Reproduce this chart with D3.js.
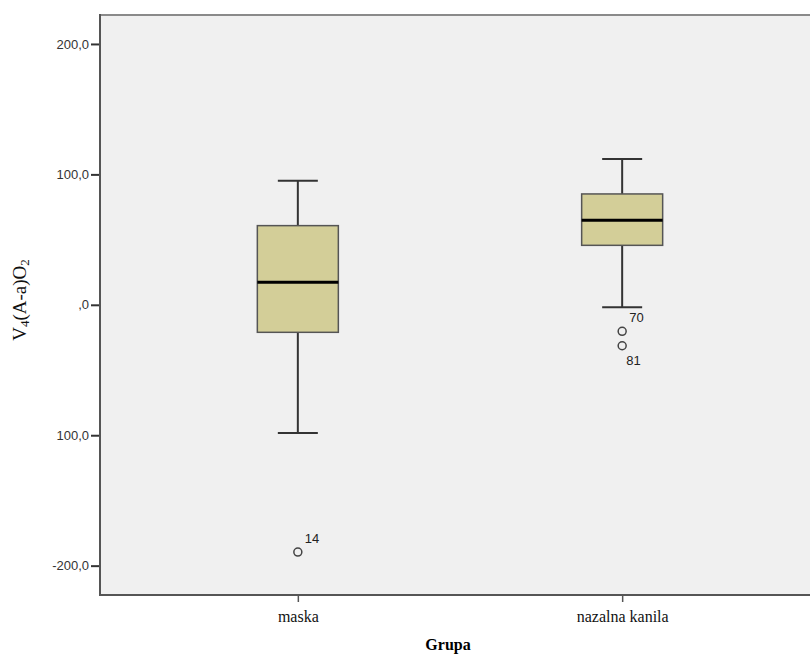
<!DOCTYPE html>
<html>
<head>
<meta charset="utf-8">
<script src="https://cdn.jsdelivr.net/npm/d3@7"></script>
<style>
  body { margin: 0; background: #fff; }
</style>
</head>
<body>
<div id="chart"></div>
<script>
// groups and box summaries
var groups = ["maska", "nazalna kanila"];
var whiskerLow = [-98.3, -1.9];
var q1 = [-21.1, 45.6];
var median = [17.2, 64.8];
var q3 = [60.7, 85.0];
var whiskerHigh = [95.2, 111.8];

// outliers: group index, value, case label
var outGroup = [0, 1, 1];
var outValue = [-189.6, -20.3, -31.4];
var outLabel = ["14", "70", "81"];

var yTicks = [-200, -100, 0, 100, 200];
var yTickText = ["-200,0", "100,0", ",0", "100,0", "200,0"];

var W = 810, H = 655;
// note: "top" is taken by window.top, so plot edges get their own names
var plotL = 100, plotT = 15, plotB = 595, plotR = 820;

var svg = d3.select("#chart").append("svg")
  .attr("width", W).attr("height", H);

var y = d3.scaleLinear().domain([-222.5, 222.2]).range([plotB, plotT]);
var x = d3.scalePoint().domain(groups).range([plotL, plotR]).padding(0.61);

// plot background
svg.append("rect")
  .attr("x", plotL).attr("y", plotT)
  .attr("width", plotR - plotL).attr("height", plotB - plotT)
  .attr("fill", "#f0f0f0")
  .attr("stroke", "none");

// top border
svg.append("line")
  .attr("x1", plotL).attr("x2", plotR)
  .attr("y1", plotT).attr("y2", plotT)
  .attr("stroke", "#8a8a8a").attr("stroke-width", 2);

var boxW = 81, capW = 40;

var g = svg.append("g");
groups.forEach(function (name, i) {
  var cx = x(name);
  // whisker stems
  g.append("line")
    .attr("x1", cx).attr("x2", cx)
    .attr("y1", y(whiskerHigh[i])).attr("y2", y(q3[i]))
    .attr("stroke", "#333").attr("stroke-width", 2);
  g.append("line")
    .attr("x1", cx).attr("x2", cx)
    .attr("y1", y(q1[i])).attr("y2", y(whiskerLow[i]))
    .attr("stroke", "#333").attr("stroke-width", 2);
  // caps
  [whiskerHigh[i], whiskerLow[i]].forEach(function (v) {
    g.append("line")
      .attr("x1", cx - capW / 2).attr("x2", cx + capW / 2)
      .attr("y1", y(v)).attr("y2", y(v))
      .attr("stroke", "#333").attr("stroke-width", 2);
  });
  // box
  g.append("rect")
    .attr("x", cx - boxW / 2).attr("y", y(q3[i]))
    .attr("width", boxW).attr("height", y(q1[i]) - y(q3[i]))
    .attr("fill", "#d3ce98")
    .attr("stroke", "#555").attr("stroke-width", 1.5);
  // median
  g.append("line")
    .attr("x1", cx - boxW / 2).attr("x2", cx + boxW / 2)
    .attr("y1", y(median[i])).attr("y2", y(median[i]))
    .attr("stroke", "#000").attr("stroke-width", 3);
});

// outliers
outValue.forEach(function (v, k) {
  var cx = x(groups[outGroup[k]]);
  g.append("circle")
    .attr("cx", cx).attr("cy", y(v)).attr("r", 4)
    .attr("fill", "none").attr("stroke", "#444").attr("stroke-width", 1.5);
  // the lowest point of a crowded pair gets its label below
  var below = outGroup[k] === 1 && v === d3.min(outValue.filter(function (w, j) { return outGroup[j] === 1; }));
  g.append("text")
    .attr("x", cx + (below ? 4 : 7))
    .attr("y", below ? y(v) + 19 : y(v) - 9)
    .style("font-family", "Arial, 'Liberation Sans', sans-serif")
    .style("font-size", "13px")
    .style("fill", "#222")
    .text(outLabel[k]);
});

// y axis
var yAxis = d3.axisLeft(y).tickValues(yTicks)
  .tickFormat(function (d, i) { return yTickText[i]; })
  .tickSize(9).tickPadding(2);
var ya = svg.append("g").attr("transform", "translate(" + plotL + ",0)").call(yAxis);
ya.select(".domain").remove();
ya.selectAll(".tick line").attr("stroke", "#333").attr("stroke-width", 2);
ya.selectAll(".tick text")
  .style("font-family", "Arial, 'Liberation Sans', sans-serif")
  .style("font-size", "13px")
  .style("fill", "#333");
svg.append("line")
  .attr("x1", plotL).attr("x2", plotL)
  .attr("y1", plotT - 1).attr("y2", plotB + 1)
  .attr("stroke", "#555").attr("stroke-width", 2);

// x axis
var xAxis = d3.axisBottom(x).tickSize(7).tickPadding(9);
var xa = svg.append("g").attr("transform", "translate(0," + plotB + ")").call(xAxis);
xa.select(".domain").remove();
xa.selectAll(".tick line").attr("stroke", "#555").attr("stroke-width", 1.5);
xa.selectAll(".tick text")
  .style("font-family", "'Liberation Serif', 'Times New Roman', serif")
  .style("font-size", "16px")
  .style("fill", "#111");
svg.append("line")
  .attr("x1", plotL - 1).attr("x2", plotR)
  .attr("y1", plotB).attr("y2", plotB)
  .attr("stroke", "#555").attr("stroke-width", 2);

// axis titles
svg.append("text")
  .attr("x", (plotL + 796) / 2).attr("y", 650)
  .attr("text-anchor", "middle")
  .style("font-family", "'Liberation Serif', 'Times New Roman', serif")
  .style("font-size", "16px")
  .style("font-weight", "bold")
  .text("Grupa");

var yt = svg.append("text")
  .attr("transform", "translate(26,300) rotate(-90)")
  .attr("text-anchor", "middle")
  .style("font-family", "'Liberation Serif', 'Times New Roman', serif")
  .style("font-size", "19px")
  .style("fill", "#111");
yt.append("tspan").text("V");
yt.append("tspan").attr("baseline-shift", "-25%").style("font-size", "13px").text("4");
yt.append("tspan").text("(A-a)O");
yt.append("tspan").attr("baseline-shift", "-25%").style("font-size", "13px").text("2");
</script>
</body>
</html>
